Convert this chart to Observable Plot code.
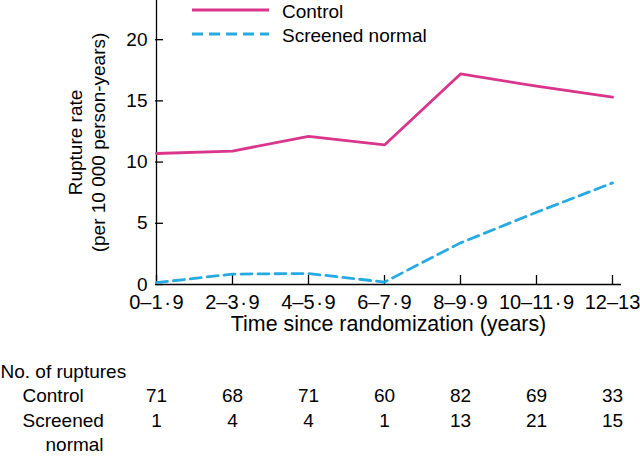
<!DOCTYPE html>
<html><head><meta charset="utf-8">
<script src="https://cdn.jsdelivr.net/npm/d3@7"></script>
<script src="https://cdn.jsdelivr.net/npm/@observablehq/plot@0.6"></script>
<style>
body{margin:0;background:#fff;font-family:"Liberation Sans",Arial,sans-serif;}
#wrap{position:relative;width:640px;height:457px;overflow:hidden;}
#legend{position:absolute;left:0;top:0;}
</style></head><body><div id="wrap"></div>
<script>
const periods = ["0–1·9", "2–3·9", "4–5·9", "6–7·9", "8–9·9", "10–11·9", "12–13"];
const controlRate = [10.7, 10.9, 12.1, 11.4, 17.2, 16.2, 15.3];
const screenedRate = [0.15, 0.85, 0.9, 0.2, 3.4, 5.9, 8.3];
const controlRuptures = [71, 68, 71, 60, 82, 69, 33];
const screenedRuptures = [1, 4, 4, 1, 13, 21, 15];
const yTicks = [0, 5, 10, 15, 20];
const seriesNames = ["Control", "Screened normal"];
const seriesColors = ["#d9368b", "#27aae1"];
const seriesDash = [null, "11,6"];
const xTitle = "Time since randomization (years)";
const yTitle = "Rupture rate\n(per 10 000 person-years)";
const tableTitle = "No. of ruptures";

const controlRows = periods.map((p, i) => ({period: p, rate: controlRate[i]}));
const screenedRows = periods.map((p, i) => ({period: p, rate: screenedRate[i]}));
const font = "'Liberation Sans', Arial, Helvetica, sans-serif";
const fs = 19;
// widen the middle dot slightly, as in the typeset original
const tickFmt = d => d.replace("·", "\u200A·\u200A");

const plot = Plot.plot({
  width: 640, height: 457,
  marginTop: 0, marginLeft: 155, marginRight: 19, marginBottom: 173,
  style: {fontFamily: font, fontSize: "19px", color: "#000", background: "#fff", overflow: "visible"},
  x: {type: "point", domain: periods, range: [155, 613], padding: 0},
  y: {domain: [0, 23.2]},
  marks: [
    Plot.ruleY([0], {stroke: "#000", strokeWidth: 1.3}),
    Plot.ruleX([periods[0]], {stroke: "#000", strokeWidth: 1.3}),
    Plot.axisY({ticks: yTicks, tickSize: 8, dx: 8, tickFormat: () => "", label: null, strokeWidth: 1.3}),
    Plot.axisY({ticks: yTicks, tickSize: 0, tickPadding: 8, label: null, fontSize: fs}),
    Plot.axisX({tickSize: 9, dy: -9, tickFormat: () => "", label: null, strokeWidth: 1.3}),
    Plot.axisX({tickSize: 0, tickPadding: 10, label: null, fontSize: 20, tickFormat: tickFmt}),
    Plot.line(controlRows, {x: "period", y: "rate", stroke: seriesColors[0], strokeWidth: 2.8}),
    Plot.line(screenedRows, {x: "period", y: "rate", stroke: seriesColors[1], strokeWidth: 2.8, strokeDasharray: seriesDash[1]}),
    Plot.text([xTitle], {frameAnchor: "bottom", dy: 46, fontSize: 21.4}),
    Plot.text([yTitle], {frameAnchor: "left", dx: -69.5, rotate: -90, lineHeight: 1.2, textAnchor: "middle", fontSize: fs}),
    Plot.text([tableTitle], {frameAnchor: "bottom-left", dx: -155, dy: 93, textAnchor: "start", fontSize: fs}),
    Plot.text([seriesNames[0]], {frameAnchor: "bottom-left", dx: -133, dy: 117, textAnchor: "start", fontSize: fs}),
    Plot.text(["Screened"], {frameAnchor: "bottom-left", dx: -133, dy: 142, textAnchor: "start", fontSize: fs}),
    Plot.text(["normal"], {frameAnchor: "bottom-left", dx: -110, dy: 166, textAnchor: "start", fontSize: fs}),
    Plot.text(controlRuptures, {x: periods, text: d => d, frameAnchor: "bottom", dy: 117, fontSize: fs}),
    Plot.text(screenedRuptures, {x: periods, text: d => d, frameAnchor: "bottom", dy: 142, fontSize: fs})
  ]
});
const wrap = document.getElementById("wrap");
wrap.appendChild(plot);

// legend
const ns = "http://www.w3.org/2000/svg";
const leg = document.createElementNS(ns, "svg");
leg.setAttribute("id", "legend");
leg.setAttribute("width", 460); leg.setAttribute("height", 50);
leg.style.fontFamily = font; leg.style.fontSize = "19px";
seriesNames.forEach((name, i) => {
  const y = 10 + i * 24;
  const l = document.createElementNS(ns, "line");
  l.setAttribute("x1", 192); l.setAttribute("x2", 269);
  l.setAttribute("y1", y); l.setAttribute("y2", y);
  l.setAttribute("stroke", seriesColors[i]); l.setAttribute("stroke-width", 2.8);
  if (seriesDash[i]) l.setAttribute("stroke-dasharray", seriesDash[i]);
  leg.appendChild(l);
  const t = document.createElementNS(ns, "text");
  t.setAttribute("x", 282); t.setAttribute("y", y + 1.5);
  t.setAttribute("dy", "0.35em");
  t.textContent = name;
  leg.appendChild(t);
});
wrap.appendChild(leg);
</script></body></html>
